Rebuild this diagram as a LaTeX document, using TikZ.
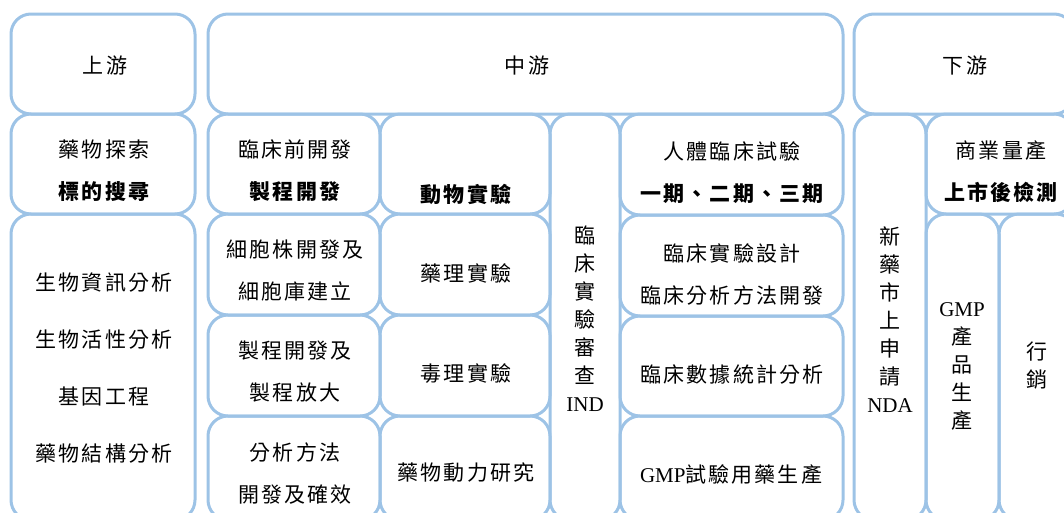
\documentclass[tikz,border=0pt]{standalone}
\usepackage{fontspec}
\setmainfont{Liberation Serif}
\newfontfamily\cjk{Noto Sans CJK TC}[LetterSpace=10]
\definecolor{edgeblue}{HTML}{9DC3E6}
\newcommand\lat[1]{{\rmfamily\fontsize{21}{28}\selectfont #1}}
\newcommand\mybox[5]{\node[box, anchor=north west, minimum width={(#4)-(#2)}, minimum height={(#5)-(#3)}] (#1) at (#2,#3) {};}
\tikzset{
  box/.style={draw=edgeblue, line width=3pt, rounded corners=20pt, inner sep=0pt, outer sep=0pt},
  txt/.style={inner sep=0pt, align=center, font=\cjk\fontsize{21}{42}\selectfont},
  vtxt/.style={inner sep=0pt, align=center, font=\cjk\fontsize{21}{28}\selectfont},
  gtxt/.style={inner sep=0pt, align=center, font=\cjk\fontsize{21}{57}\selectfont}
}
\begin{document}
\begin{tikzpicture}[x=1pt,y=-1pt]
\useasboundingbox (0,0) rectangle (1064,512);
\clip (0,0) rectangle (1064,512);
% top row
\mybox{up}{11}{14}{195}{114}
\mybox{mid}{208}{14}{843}{114}
\mybox{down}{854}{14}{1074}{114}
% second row
\mybox{disc}{11}{114}{195}{214}
\mybox{pre}{208}{114}{380}{214}
\mybox{anim}{380}{114}{550}{214}
\mybox{ind}{550}{114}{620}{520}
\mybox{human}{620}{114}{843}{215}
\mybox{nda}{854}{114}{926}{520}
\mybox{comm}{926}{114}{1074}{214}
% lower rows
\mybox{bio}{11}{214}{195}{520}
\mybox{cell}{208}{214}{380}{315}
\mybox{pharm}{380}{214}{550}{315}
\mybox{design}{620}{215}{843}{316}
\mybox{gmpp}{926}{214}{999}{520}
\mybox{mkt}{999}{214}{1076}{520}
\mybox{proc}{208}{315}{380}{416}
\mybox{tox}{380}{315}{550}{416}
\mybox{stat}{620}{316}{843}{416}
\mybox{anal}{208}{416}{380}{520}
\mybox{pk}{380}{416}{550}{520}
\mybox{gmpt}{620}{416}{843}{520}
% texts
\node[txt] (t-up) at (105,66) {上游};
\node[txt] (t-mid) at (527,66) {中游};
\node[txt] (t-down) at (965,66) {下游};
\node[txt] (t-disc) at (104,171) {藥物探索\\\bfseries 標的搜尋};
\node[txt] (t-pre) at (295,171) {臨床前開發\\\bfseries 製程開發};
\node[txt] (t-anim) at (466,194) {\bfseries 動物實驗};
\node[txt] (t-human) at (732,173) {人體臨床試驗\\\bfseries 一期、二期、三期};
\node[txt] (t-comm) at (1001,172) {商業量產\\\bfseries 上市後檢測};
\node[gtxt] (t-bio) at (104,368) {生物資訊分析\\生物活性分析\\基因工程\\藥物結構分析};
\node[txt] (t-cell) at (295,271) {細胞株開發及\\細胞庫建立};
\node[txt] (t-proc) at (295,372) {製程開發及\\製程放大};
\node[txt] (t-anal) at (295,474) {分析方法\\開發及確效};
\node[txt] (t-pharm) at (466,273) {藥理實驗};
\node[txt] (t-tox) at (466,373) {毒理實驗};
\node[txt] (t-pk) at (466,473) {藥物動力研究};
\node[txt] (t-design) at (732,274) {臨床實驗設計\\臨床分析方法開發};
\node[txt] (t-stat) at (732,375) {臨床數據統計分析};
\node[txt] (t-gmpt) at (731,475) {\lat{GMP}試驗用藥生產};
\node[vtxt] (t-ind) at (585,319) {臨\\床\\實\\驗\\審\\查\\\lat{IND}};
\node[vtxt] (t-nda) at (890,320) {新\\藥\\市\\上\\申\\請\\\lat{NDA}};
\node[vtxt] (t-gmpp) at (962,366) {\lat{GMP}\\產\\品\\生\\產};
\node[vtxt] (t-mkt) at (1037,366) {行\\銷};
\end{tikzpicture}
\end{document}
